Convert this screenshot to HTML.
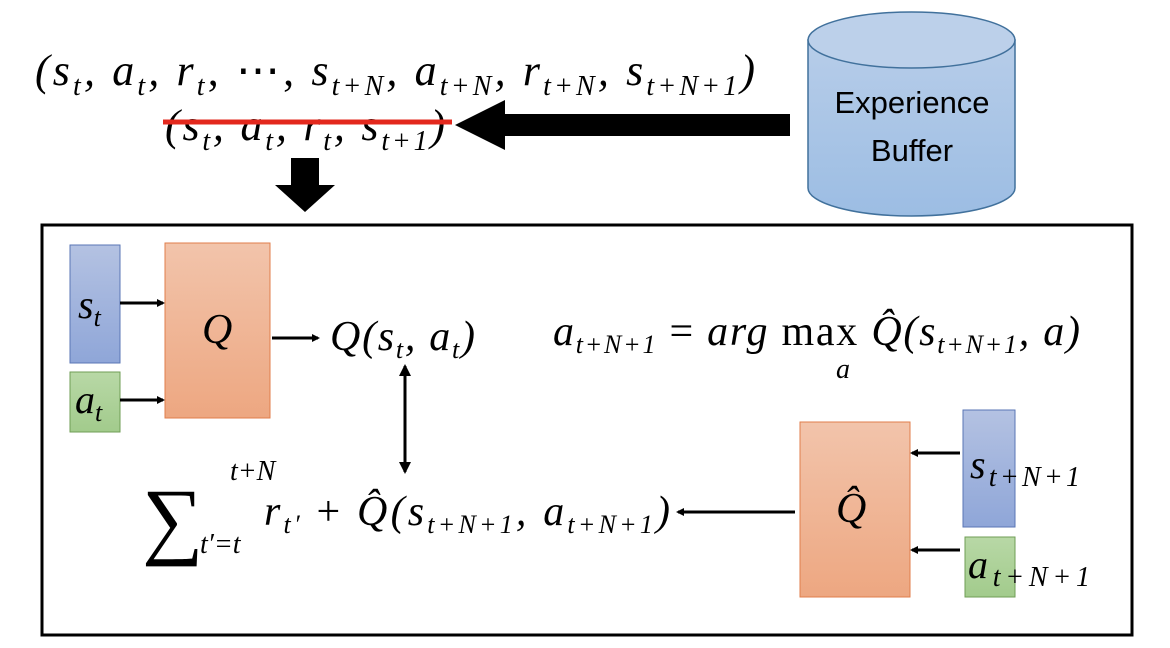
<!DOCTYPE html>
<html><head><meta charset="utf-8"><style>
html,body{margin:0;padding:0;background:#fff;width:1170px;height:648px;overflow:hidden}
svg text{font-family:"Liberation Serif",serif;font-style:italic;fill:#000}
</style></head><body>
<svg width="1170" height="648" viewBox="0 0 1170 648">
<defs>
<linearGradient id="gb" x1="0" y1="0" x2="0" y2="1"><stop offset="0" stop-color="#b4c2e2"/><stop offset="1" stop-color="#8fa6d8"/></linearGradient>
<linearGradient id="go" x1="0" y1="0" x2="0" y2="1"><stop offset="0" stop-color="#f2c4ab"/><stop offset="1" stop-color="#eda781"/></linearGradient>
<linearGradient id="gg" x1="0" y1="0" x2="0" y2="1"><stop offset="0" stop-color="#b8d8a6"/><stop offset="1" stop-color="#a2cb8c"/></linearGradient>
<linearGradient id="gc" x1="0" y1="0" x2="0" y2="1"><stop offset="0" stop-color="#b7cde9"/><stop offset="1" stop-color="#9cbde3"/></linearGradient>
<marker id="ah" markerWidth="8" markerHeight="8" refX="6" refY="4" orient="auto" markerUnits="userSpaceOnUse"><path d="M0,0 L8,4 L0,8 Z" fill="#000"/></marker>
<marker id="ah2" markerWidth="12" markerHeight="12" refX="10" refY="6" orient="auto-start-reverse" markerUnits="userSpaceOnUse"><path d="M0,0 L12,6 L0,12 Z" fill="#000"/></marker>
</defs>

<text x="35" y="85" font-size="44" textLength="720" lengthAdjust="spacing">(s<tspan font-size="28" dy="10">t</tspan><tspan dy="-10">, a</tspan><tspan font-size="28" dy="10">t</tspan><tspan dy="-10">, r</tspan><tspan font-size="28" dy="10">t</tspan><tspan dy="-10" font-style="normal">, ⋯, </tspan><tspan dy="0">s</tspan><tspan font-size="28" dy="10">t+N</tspan><tspan dy="-10">, a</tspan><tspan font-size="28" dy="10">t+N</tspan><tspan dy="-10">, r</tspan><tspan font-size="28" dy="10">t+N</tspan><tspan dy="-10">, s</tspan><tspan font-size="28" dy="10">t+N+1</tspan><tspan dy="-10">)</tspan></text>

<text x="165" y="140" font-size="44" textLength="280" lengthAdjust="spacing">(s<tspan font-size="28" dy="10">t</tspan><tspan dy="-10">, a</tspan><tspan font-size="28" dy="10">t</tspan><tspan dy="-10">, r</tspan><tspan font-size="28" dy="10">t</tspan><tspan dy="-10">, s</tspan><tspan font-size="28" dy="10">t+1</tspan><tspan dy="-10">)</tspan></text>
<line x1="163" y1="122" x2="452" y2="122" stroke="#e3281d" stroke-width="5"/>

<path d="M790,114 L505,114 L505,100 L455,125 L505,150 L505,136 L790,136 Z" fill="#000"/>

<g>
<path d="M808,40 L808,188 A103.5,28 0 0 0 1015,188 L1015,40 Z" fill="url(#gc)" stroke="#41719c" stroke-width="1.5"/>
<ellipse cx="911.5" cy="40" rx="103.5" ry="28" fill="#bcd0ea" stroke="#41719c" stroke-width="1.5"/>
<text x="912" y="113" font-size="31" text-anchor="middle" style="font-family:'Liberation Sans',sans-serif;font-style:normal">Experience</text>
<text x="912" y="161" font-size="31" text-anchor="middle" style="font-family:'Liberation Sans',sans-serif;font-style:normal">Buffer</text>
</g>

<path d="M291,158 L319,158 L319,185 L335,185 L305,212 L275,185 L291,185 Z" fill="#000"/>

<rect x="42" y="225" width="1090" height="410" fill="none" stroke="#000" stroke-width="3"/>

<rect x="70" y="245" width="50" height="118" fill="url(#gb)" stroke="#5a76b5"/>
<text x="78" y="318" font-size="40">s<tspan font-size="26" dy="8">t</tspan></text>
<rect x="70" y="372" width="50" height="60" fill="url(#gg)" stroke="#6f9e55"/>
<text x="75" y="413" font-size="40">a<tspan font-size="26" dy="8">t</tspan></text>
<rect x="165" y="243" width="105" height="175" fill="url(#go)" stroke="#e07e4b"/>
<text x="202" y="343" font-size="42">Q</text>
<line x1="120" y1="303" x2="163" y2="303" stroke="#000" stroke-width="3" marker-end="url(#ah)"/>
<line x1="120" y1="400" x2="163" y2="400" stroke="#000" stroke-width="3" marker-end="url(#ah)"/>
<line x1="272" y1="338" x2="318" y2="338" stroke="#000" stroke-width="3" marker-end="url(#ah)"/>
<text x="330" y="350" font-size="42" textLength="145" lengthAdjust="spacing">Q(s<tspan font-size="26" dy="8">t</tspan><tspan dy="-8">, a</tspan><tspan font-size="26" dy="8">t</tspan><tspan dy="-8">)</tspan></text>

<text x="553" y="345" font-size="42" textLength="527" lengthAdjust="spacing">a<tspan font-size="26" dy="8">t+N+1</tspan><tspan dy="-8" font-style="normal"> = </tspan><tspan>arg </tspan><tspan font-style="normal">max</tspan><tspan> Q̂(s</tspan><tspan font-size="26" dy="8">t+N+1</tspan><tspan dy="-8">, a)</tspan></text>
<text x="836" y="378" font-size="28">a</text>

<line x1="405" y1="366" x2="405" y2="472" stroke="#000" stroke-width="3" marker-start="url(#ah2)" marker-end="url(#ah2)"/>

<g>
<text x="142" y="548" font-size="86" style="font-style:normal">∑</text>
<text x="230" y="480" font-size="28">t+N</text>
<text x="200" y="553" font-size="28">t′=t</text>
<text x="264" y="525" font-size="42" textLength="406" lengthAdjust="spacing">r<tspan font-size="26" dy="8">t′</tspan><tspan dy="-8" font-style="normal"> + </tspan><tspan>Q̂(s</tspan><tspan font-size="26" dy="8">t+N+1</tspan><tspan dy="-8">, a</tspan><tspan font-size="26" dy="8">t+N+1</tspan><tspan dy="-8">)</tspan></text>
</g>
<line x1="795" y1="512" x2="678" y2="512" stroke="#000" stroke-width="3" marker-end="url(#ah)"/>

<rect x="800" y="422" width="110" height="175" fill="url(#go)" stroke="#e07e4b"/>
<text x="836" y="522" font-size="42">Q̂</text>
<rect x="963" y="410" width="52" height="117" fill="url(#gb)" stroke="#5a76b5"/>
<text x="970" y="478" font-size="40" textLength="110" lengthAdjust="spacing">s<tspan font-size="28" dy="8">t+N+1</tspan></text>
<rect x="965" y="537" width="50" height="60" fill="url(#gg)" stroke="#6f9e55"/>
<text x="968" y="578" font-size="40" textLength="122" lengthAdjust="spacing">a<tspan font-size="28" dy="8">t+N+1</tspan></text>
<line x1="960" y1="453" x2="912" y2="453" stroke="#000" stroke-width="3" marker-end="url(#ah)"/>
<line x1="960" y1="550" x2="912" y2="550" stroke="#000" stroke-width="3" marker-end="url(#ah)"/>
</svg>
</body></html>
